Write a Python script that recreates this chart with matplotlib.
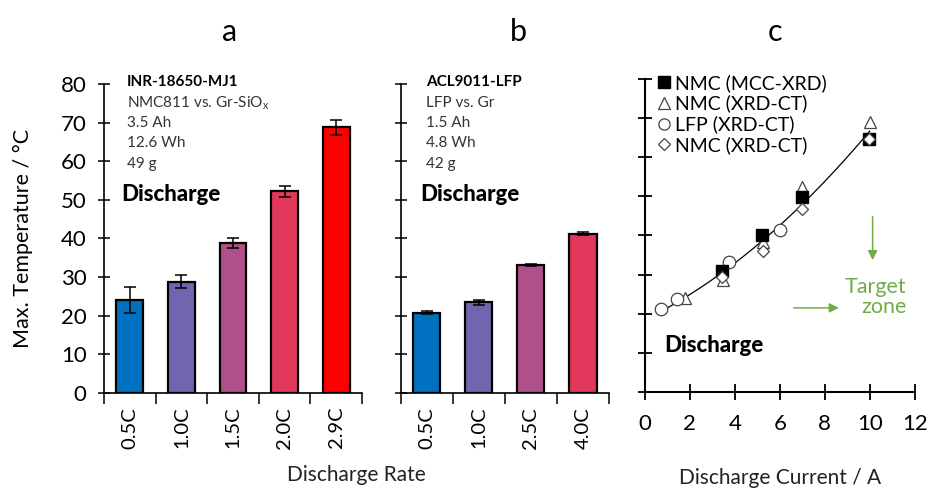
import numpy as np
import matplotlib
matplotlib.use('Agg')
import matplotlib.pyplot as plt

plt.rcParams['font.family'] = ['Lato', 'DejaVu Sans']

# panel a - INR-18650-MJ1
rates_a = ['0.5C', '1.0C', '1.5C', '2.0C', '2.9C']
temp_a = [24.1, 28.8, 38.8, 52.2, 68.8]
err_a = [3.4, 1.7, 1.2, 1.4, 1.9]
colors_a = ['#0070C0', '#7264AE', '#B0508A', '#E2385C', '#FF0000']

# panel b - ACL9011-LFP
rates_b = ['0.5C', '1.0C', '2.5C', '4.0C']
temp_b = [20.8, 23.5, 33.2, 41.2]
err_b = [0.4, 0.7, 0.3, 0.4]
colors_b = ['#0070C0', '#7264AE', '#B0508A', '#E2385C']

# panel c - temperature vs current
sq_x = [3.45, 5.23, 7.0, 9.97]
sq_y = [31.0, 40.0, 49.9, 64.7]
tri_x = [1.78, 3.48, 5.26, 6.99, 10.0]
tri_y = [24.0, 28.5, 38.4, 52.3, 68.9]
circ_x = [0.71, 1.44, 3.75, 6.03]
circ_y = [21.1, 23.8, 33.3, 41.4]
dia_x = [3.45, 5.26, 6.99, 9.97]
dia_y = [29.3, 36.1, 46.7, 64.7]

fig = plt.figure(figsize=(9.3, 4.9), dpi=100)
ax_a = fig.add_axes([0.1118, 0.198, 0.2774, 0.6306])
ax_b = fig.add_axes([0.4309, 0.198, 0.224, 0.6306])
ax_c = fig.add_axes([0.6935, 0.2, 0.290, 0.6388])


def bar_panel(ax, rates, temps, errs, cols):
    x = np.arange(len(rates))
    ax.bar(x, temps, width=0.52, color=cols, edgecolor='black', linewidth=1.6,
           yerr=errs, capsize=4, error_kw=dict(elinewidth=1.1, capthick=1.1, ecolor='black'))
    ax.set_xlim(-0.5, len(rates) - 0.5)
    ax.set_ylim(0, 80)
    ax.set_yticks(np.arange(0, 81, 10))
    ax.set_xticks(x)
    ax.set_xticklabels(rates, rotation=90, fontsize=14.5)
    ax.set_xticks(np.arange(len(rates) + 1) - 0.5, minor=True)
    ax.tick_params(axis='x', which='major', length=0, pad=10)
    ax.tick_params(axis='x', which='minor', length=8, width=1.1, direction='out')
    ax.tick_params(axis='y', length=9, width=1.1, direction='inout', labelsize=16, pad=8)
    for s in ['top', 'right']:
        ax.spines[s].set_visible(False)
    for s in ['left', 'bottom']:
        ax.spines[s].set_linewidth(1.2)


bar_panel(ax_a, rates_a, temp_a, err_a, colors_a)
bar_panel(ax_b, rates_b, temp_b, err_b, colors_b)
ax_b.set_yticklabels([])
ax_a.set_ylabel('Max. Temperature / °C', fontsize=15.5, labelpad=20)

info_a = ['NMC811 vs. Gr-SiO$_\\mathregular{x}$', '3.5 Ah', '12.6 Wh', '49 g']
info_b = ['LFP vs. Gr', '1.5 Ah', '4.8 Wh', '42 g']
ax_a.text(-0.05, 80.5, 'INR-18650-MJ1', fontsize=11, fontweight='bold', va='center')
for i, t in enumerate(info_a):
    ax_a.text(-0.05, 75.0 - 5.2 * i, t, fontsize=11, va='center', color='#333333')
ax_a.text(-0.17, 51.5, 'Discharge', fontsize=16, fontweight='black', va='center')

ax_b.text(-0.02, 80.5, 'ACL9011-LFP', fontsize=11, fontweight='bold', va='center')
for i, t in enumerate(info_b):
    ax_b.text(-0.02, 75.0 - 5.2 * i, t, fontsize=11, va='center', color='#333333')
ax_b.text(-0.12, 51.3, 'Discharge', fontsize=16, fontweight='black', va='center')

fig.text(0.383, 0.03, 'Discharge Rate', fontsize=15, ha='center', va='center', color='#222222')

# panel c
all_x = np.array(sq_x + tri_x + circ_x + dia_x)
all_y = np.array(sq_y + tri_y + circ_y + dia_y)
fit = np.poly1d(np.polyfit(all_x, all_y, 2))
xf = np.linspace(min(all_x), max(all_x), 200)
ax_c.plot(xf, fit(xf), color='black', linewidth=0.9, zorder=1)

ax_c.plot(sq_x, sq_y, 's', color='black', markersize=9, linestyle='none',
          label='NMC (MCC-XRD)', zorder=3)
ax_c.plot(tri_x, tri_y, '^', mfc='white', mec='#444444', markersize=9, mew=0.9,
          linestyle='none', label='NMC (XRD-CT)', zorder=2)
ax_c.plot(circ_x, circ_y, 'o', mfc='white', mec='#444444', markersize=9, mew=0.9,
          linestyle='none', label='LFP (XRD-CT)', zorder=2)
ax_c.plot(dia_x, dia_y, 'D', mfc='white', mec='#444444', markersize=6.5, mew=0.9,
          linestyle='none', label='NMC (XRD-CT)', zorder=4)

ax_c.legend(loc='upper left', bbox_to_anchor=(0.0, 1.06), frameon=False, fontsize=14,
            handlelength=0.6, handletextpad=0.25, labelspacing=0.15, borderaxespad=0.3,
            markerscale=0.9)

ax_c.set_xlim(0, 12)
ax_c.set_ylim(0, 80)
ax_c.set_xticks(np.arange(0, 13, 2))
ax_c.set_yticks(np.arange(0, 81, 10))
ax_c.set_yticklabels([])
ax_c.tick_params(axis='x', length=12, width=1.3, direction='inout', labelsize=16, pad=10)
ax_c.tick_params(axis='y', length=10, width=1.3, direction='inout')
for s in ['top', 'right']:
    ax_c.spines[s].set_visible(False)
for s in ['left', 'bottom']:
    ax_c.spines[s].set_linewidth(1.5)
ax_c.set_xlabel('Discharge Current / A', fontsize=15, labelpad=24, color='#222222')

green = '#70AD47'
ax_c.annotate('', xy=(10.13, 33.0), xytext=(10.13, 45.5),
              arrowprops=dict(arrowstyle='-|>', color=green, lw=1.1, mutation_scale=14))
ax_c.annotate('', xy=(8.75, 21.5), xytext=(6.5, 21.5),
              arrowprops=dict(arrowstyle='-|>', color=green, lw=1.1, mutation_scale=14))
ax_c.text(11.64, 24.3, 'Target\nzone', color=green, fontsize=15.5, ha='right', va='center',
          multialignment='right', linespacing=1.0)
ax_c.text(0.84, 11.8, 'Discharge', fontsize=16, fontweight='black', va='center')

for lbl, xp in zip(['a', 'b', 'c'], [0.247, 0.557, 0.833]):
    fig.text(xp, 0.935, lbl, fontsize=22, ha='center', va='center')

fig.savefig('out.png', dpi=100)
